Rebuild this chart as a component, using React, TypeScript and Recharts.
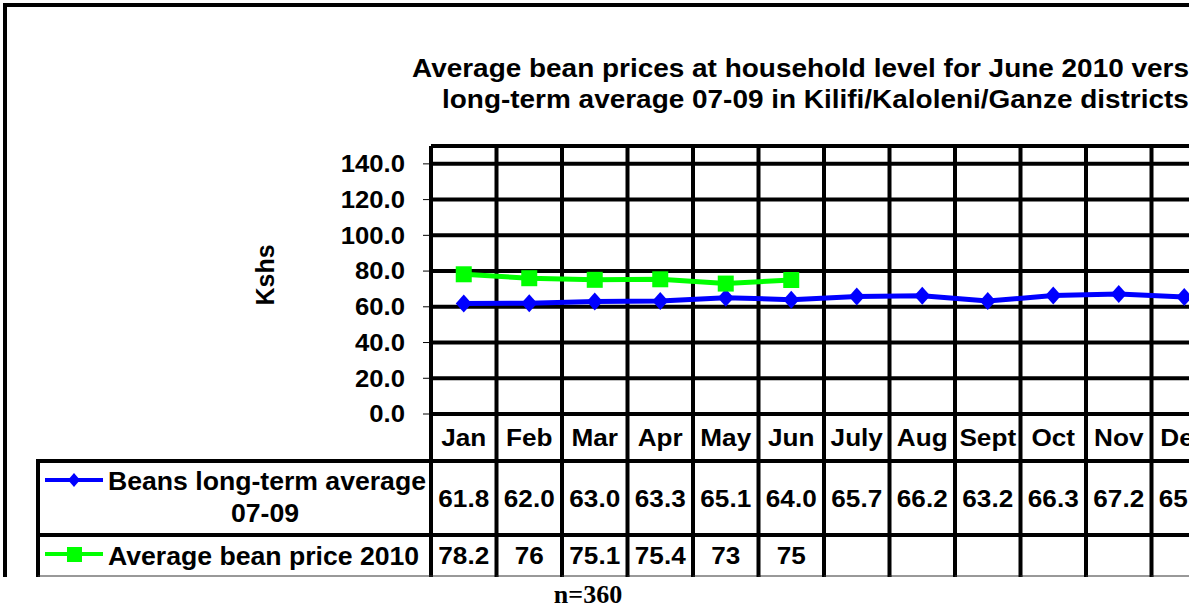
import { CartesianGrid, Line, LineChart, ReferenceLine, XAxis, YAxis } from "recharts";

const MONTHS = ["Jan", "Feb", "Mar", "Apr", "May", "Jun", "July", "Aug", "Sept", "Oct", "Nov", "Dec"];
const LONG_TERM = [61.8, 62.0, 63.0, 63.3, 65.1, 64.0, 65.7, 66.2, 63.2, 66.3, 67.2, 65.5];
const PRICE_2010 = [78.2, 76, 75.1, 75.4, 73, 75];
const Y_TICKS = [0, 20, 40, 60, 80, 100, 120, 140];

const SERIES_LONG = "Beans long-term average";
const SERIES_LONG_2 = "07-09";
const SERIES_2010 = "Average bean price 2010";
const TITLE_1 = "Average bean prices at household level for June 2010 versus";
const TITLE_2 = "long-term average 07-09 in Kilifi/Kaloleni/Ganze districts";

const data = MONTHS.map((m, i) => ({
  month: m,
  longTerm: LONG_TERM[i],
  price2010: i < PRICE_2010.length ? PRICE_2010[i] : null,
}));

const FONT = "'Liberation Sans', Arial, sans-serif";
const BLUE = "#0000ff";
const GREEN = "#00ff00";

// layout
const W = 1240;
const H = 577;
const AXIS_Y = 414;
const HEADER_BOTTOM = 461;
const ROW1_BOTTOM = 535;
const TABLE_BOTTOM = 577;
const LEGEND_LEFT = 38;

const txt = { fontFamily: FONT, fontWeight: 700, fill: "#000" };

// the original picture is a little stretched sideways, so text gets a scaleX
function SText({ x, y, size = 24, sx = 1.08, anchor = "start", children }: any) {
  return (
    <text
      transform={`translate(${x},${y}) scale(${sx},1)`}
      dy="0.35em"
      textAnchor={anchor}
      fontSize={size}
      {...txt}
    >
      {children}
    </text>
  );
}

function Diamond(p: any) {
  const { cx, cy, index } = p;
  if (cx == null || cy == null) return <g key={`d${index}`} />;
  return (
    <polygon
      key={`d${index}`}
      points={`${cx},${cy - 9} ${cx + 8},${cy} ${cx},${cy + 9} ${cx - 8},${cy}`}
      fill={BLUE}
    />
  );
}

function Square(p: any) {
  const { cx, cy, index } = p;
  if (cx == null || cy == null) return <g key={`s${index}`} />;
  return <rect key={`s${index}`} x={cx - 8} y={cy - 8} width={16} height={16} fill={GREEN} />;
}

function YTick(props: any) {
  const { x, y, payload } = props;
  return (
    <SText x={x} y={y} anchor="end" sx={1.07}>
      {Number(payload.value).toFixed(1)}
    </SText>
  );
}

function TableColumn(props: any) {
  const { x, payload, index, width, visibleTicksCount } = props;
  const half = payload.offset > 0 ? payload.offset : width / visibleTicksCount / 2;
  const left = x - half;
  const right = x + half;
  const last = index === MONTHS.length - 1;
  const p2010 = PRICE_2010[index];
  return (
    <g>
      <line x1={left} x2={left} y1={AXIS_Y} y2={TABLE_BOTTOM} stroke="#000" strokeWidth={4} />
      {last && <line x1={right} x2={right} y1={AXIS_Y} y2={TABLE_BOTTOM} stroke="#000" strokeWidth={4} />}
      <line x1={left} x2={right} y1={HEADER_BOTTOM} y2={HEADER_BOTTOM} stroke="#000" strokeWidth={4} />
      <line x1={left} x2={right} y1={ROW1_BOTTOM} y2={ROW1_BOTTOM} stroke="#000" strokeWidth={4} />
      <line x1={left} x2={right + 2} y1={TABLE_BOTTOM - 1} y2={TABLE_BOTTOM - 1} stroke="#333" strokeWidth={1} />
      <SText x={x} y={438} anchor="middle" sx={1.09}>
        {payload.value}
      </SText>
      <SText x={x} y={499} anchor="middle" sx={1.09}>
        {LONG_TERM[index].toFixed(1)}
      </SText>
      {p2010 != null && (
        <SText x={x} y={556} anchor="middle" sx={1.09}>
          {String(p2010)}
        </SText>
      )}
      {index === 0 && (
        <g>
          <line x1={LEGEND_LEFT} x2={left} y1={HEADER_BOTTOM} y2={HEADER_BOTTOM} stroke="#000" strokeWidth={4} />
          <line x1={LEGEND_LEFT} x2={left} y1={ROW1_BOTTOM} y2={ROW1_BOTTOM} stroke="#000" strokeWidth={4} />
          <line x1={LEGEND_LEFT} x2={LEGEND_LEFT} y1={HEADER_BOTTOM - 2} y2={TABLE_BOTTOM} stroke="#000" strokeWidth={4} />
          <line x1={LEGEND_LEFT} x2={left} y1={TABLE_BOTTOM - 1} y2={TABLE_BOTTOM - 1} stroke="#333" strokeWidth={1} />
          <line x1={45} x2={103} y1={480} y2={480} stroke={BLUE} strokeWidth={4} />
          <polygon points="74,473 80,480 74,487 68,480" fill={BLUE} />
          <SText x={108} y={481} size={25} sx={1.065}>
            {SERIES_LONG}
          </SText>
          <SText x={265} y={513} size={25} sx={1.065} anchor="middle">
            {SERIES_LONG_2}
          </SText>
          <line x1={45} x2={103} y1={554} y2={554} stroke={GREEN} strokeWidth={4} />
          <rect x={67} y={547} width={15} height={15} fill={GREEN} />
          <SText x={108} y={556} size={25} sx={1.065}>
            {SERIES_2010}
          </SText>
        </g>
      )}
    </g>
  );
}

export default function App() {
  return (
    <div style={{ position: "absolute", left: 0, top: 0, width: 1189, height: 606, overflow: "hidden", background: "#fff" }}>
      <div style={{ position: "absolute", left: 0, top: 0, width: 1189, height: H, overflow: "hidden" }}>
        <LineChart width={W} height={H} data={data} margin={{ top: 146, right: 23, left: 0, bottom: 0 }}>
          <CartesianGrid vertical={false} stroke="#000" strokeWidth={4} />
          <ReferenceLine y={150} stroke="#000" strokeWidth={4} />
          {MONTHS.map((m) => (
            <ReferenceLine key={m} x={m} position="start" stroke="#000" strokeWidth={4} />
          ))}
          <ReferenceLine x={MONTHS[MONTHS.length - 1]} position="end" stroke="#000" strokeWidth={4} />
          <XAxis
            dataKey="month"
            type="category"
            scale="band"
            height={H - AXIS_Y}
            axisLine={false}
            tickLine={false}
            tickSize={0}
            tickMargin={0}
            interval={0}
            tick={<TableColumn />}
          />
          <YAxis
            width={431}
            domain={[0, 150]}
            ticks={Y_TICKS}
            allowDataOverflow
            axisLine={false}
            tickSize={8}
            tickMargin={18}
            tickLine={{ stroke: "#000", strokeWidth: 1 }}
            tick={<YTick />}
          />
          <Line
            dataKey="longTerm"
            stroke={BLUE}
            strokeWidth={5}
            dot={Diamond}
            activeDot={false}
            isAnimationActive={false}
          />
          <Line
            dataKey="price2010"
            stroke={GREEN}
            strokeWidth={5}
            dot={Square}
            activeDot={false}
            isAnimationActive={false}
          />
        </LineChart>
      </div>
      <svg width={1189} height={606} style={{ position: "absolute", left: 0, top: 0, pointerEvents: "none" }}>
        <path d="M5 577 V5 H1189" fill="none" stroke="#000" strokeWidth={4} />
        <text transform="translate(412,77) scale(1.075,1)" fontSize={26} {...txt}>
          {TITLE_1}
        </text>
        <text transform="translate(442,108) scale(1.075,1)" fontSize={26} {...txt}>
          {TITLE_2}
        </text>
        <text transform="translate(265,275) rotate(-90)" dy="0.35em" textAnchor="middle" fontSize={25} {...txt}>
          Kshs
        </text>
        <text x={588} y={603} textAnchor="middle" fontSize={26} fontFamily="'Liberation Serif', 'Times New Roman', serif" fontWeight={700}>
          n=360
        </text>
      </svg>
    </div>
  );
}
